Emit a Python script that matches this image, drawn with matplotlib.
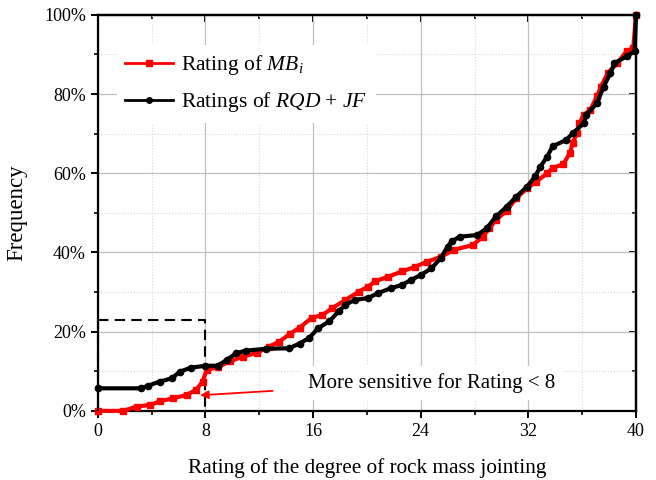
import numpy as np
import matplotlib
matplotlib.use('Agg')
import matplotlib.pyplot as plt
from matplotlib.ticker import MultipleLocator, FuncFormatter

plt.rcParams['font.family'] = ['Liberation Serif', 'DejaVu Serif']
plt.rcParams['mathtext.fontset'] = 'custom'
plt.rcParams['mathtext.rm'] = 'Liberation Serif'
plt.rcParams['mathtext.it'] = 'Liberation Serif:italic'

# cumulative frequency curves (rating, %)
mb_x = [0, 1.9, 2.9, 3.9, 4.6, 5.6, 6.6, 7.3, 7.8, 8.1, 8.9, 9.8, 10.8, 11.8, 12.7,
        13.5, 14.3, 15.0, 15.9, 16.7, 17.4, 18.4, 19.4, 20.1, 20.6, 21.6, 22.6, 23.6,
        24.5, 25.5, 26.5, 27.9, 28.6, 29.1, 29.6, 30.4, 31.1, 31.9, 32.6, 33.4, 33.8,
        34.6, 35.1, 35.3, 35.6, 35.8, 36.1, 36.6, 37.1, 37.4, 37.9, 38.6, 39.3, 39.8, 40]
mb_y = [0, 0, 1.1, 1.5, 2.4, 3.2, 4.0, 5.3, 7.4, 10.4, 11.0, 12.5, 13.7, 14.6, 16.2,
        17.5, 19.5, 21.0, 23.5, 24.2, 25.9, 28.0, 30.1, 31.4, 32.7, 33.9, 35.2, 36.4,
        37.7, 38.9, 40.7, 41.9, 44.0, 46.1, 48.2, 50.6, 53.7, 56.2, 57.9, 60.0, 61.3,
        62.3, 65.2, 67.7, 70.1, 72.6, 74.7, 76.0, 79.4, 81.9, 85.3, 87.8, 90.8, 91.7, 100]

rqd_x = [0, 3.2, 3.7, 4.6, 5.5, 6.1, 6.9, 8.0, 8.9, 9.6, 10.3, 11.0, 12.5, 14.2, 15.0,
         15.7, 16.4, 17.2, 17.9, 18.4, 19.1, 20.1, 20.8, 21.8, 22.6, 23.3, 24.0, 24.8,
         25.5, 26.0, 26.3, 26.9, 28.2, 28.9, 29.6, 30.4, 31.1, 31.9, 32.5, 32.9, 33.4,
         33.8, 34.8, 35.3, 36.1, 36.3, 37.1, 37.6, 38.1, 38.4, 39.3, 39.9, 40]
rqd_y = [5.7, 5.7, 6.3, 7.4, 8.2, 9.9, 10.9, 11.4, 11.4, 12.9, 14.6, 15.2, 15.7, 15.8, 17.0,
         18.4, 20.9, 22.6, 25.1, 26.8, 28.0, 28.5, 29.7, 31.0, 31.8, 33.1, 34.3, 36.0,
         38.6, 41.5, 42.8, 44.0, 44.4, 46.1, 49.1, 51.6, 54.1, 56.6, 59.2, 61.7, 64.2,
         66.8, 68.4, 70.1, 72.6, 74.7, 77.7, 81.9, 85.3, 87.8, 89.5, 90.8, 100]

fig = plt.figure(figsize=(6.56, 4.8), dpi=100)
ax = fig.add_axes([0.149, 0.144, 0.8205, 0.825])

ax.plot(mb_x, mb_y, color='red', lw=3, marker='s', ms=4, label='Rating of $MB_i$',
        zorder=3, clip_on=False)
ax.plot(rqd_x, rqd_y, color='black', lw=3, marker='o', ms=4.5, label='Ratings of $RQD$ + $JF$',
        zorder=4, clip_on=False)

# dashed box for rating < 8
ax.plot([0, 8, 8], [23, 23, 0], ls=(0, (5, 3)), color='black', lw=1.5, zorder=2, clip_on=False)
ax.plot([0, 0], [0, 23], ls=(0, (5, 3)), color='black', lw=1.5, zorder=6, clip_on=False)

ax.annotate('', xy=(7.4, 3.9), xytext=(13.2, 5.1),
            arrowprops=dict(arrowstyle='-|>', color='red', lw=1.3, mutation_scale=12), zorder=5)
ax.text(15.6, 7.1, 'More sensitive for Rating < 8', fontsize=15, va='center', ha='left',
        bbox=dict(facecolor='white', edgecolor='none', pad=5), zorder=2.5)

ax.set_xlim(0, 40)
ax.set_ylim(0, 100)
ax.xaxis.set_major_locator(MultipleLocator(8))
ax.xaxis.set_minor_locator(MultipleLocator(4))
ax.yaxis.set_major_locator(MultipleLocator(20))
ax.yaxis.set_minor_locator(MultipleLocator(10))
ax.yaxis.set_major_formatter(FuncFormatter(lambda v, p: f'{v:.0f}%'))

ax.grid(which='major', color='#c0c0c0', lw=0.9, ls='-')
ax.grid(which='minor', color='#d8d8d8', lw=0.8, ls=':')
ax.set_axisbelow(True)

for s in ax.spines.values():
    s.set_linewidth(1.6)
ax.tick_params(which='major', direction='out', length=5, width=1.4, labelsize=13)
ax.tick_params(which='minor', direction='out', length=3, width=1.2)

top = ax.secondary_xaxis('top')
top.xaxis.set_major_locator(MultipleLocator(8))
top.xaxis.set_minor_locator(MultipleLocator(4))
top.tick_params(which='major', direction='in', length=5, width=1.4, labeltop=False)
top.tick_params(which='minor', direction='in', length=3, width=1.2)
top.spines['top'].set_linewidth(1.6)
right = ax.secondary_yaxis('right')
right.yaxis.set_major_locator(MultipleLocator(20))
right.yaxis.set_minor_locator(MultipleLocator(10))
right.tick_params(which='major', direction='in', length=5, width=1.4, labelright=False)
right.tick_params(which='minor', direction='in', length=3, width=1.2)
right.spines['right'].set_linewidth(1.6)

ax.set_xlabel('Rating of the degree of rock mass jointing', fontsize=15.3, labelpad=13)
ax.set_ylabel('Frequency', fontsize=16.5, labelpad=12)

leg = ax.legend(loc='upper left', bbox_to_anchor=(0.035, 0.925), fontsize=15.5, frameon=True,
                fancybox=False, edgecolor='none', framealpha=1, handlelength=2.2,
                handletextpad=0.4, labelspacing=0.6, numpoints=1, borderaxespad=0)
for h in leg.legend_handles:
    h.set_linewidth(2)
    h.set_markersize(4)

fig.savefig('out.png', dpi=100)
